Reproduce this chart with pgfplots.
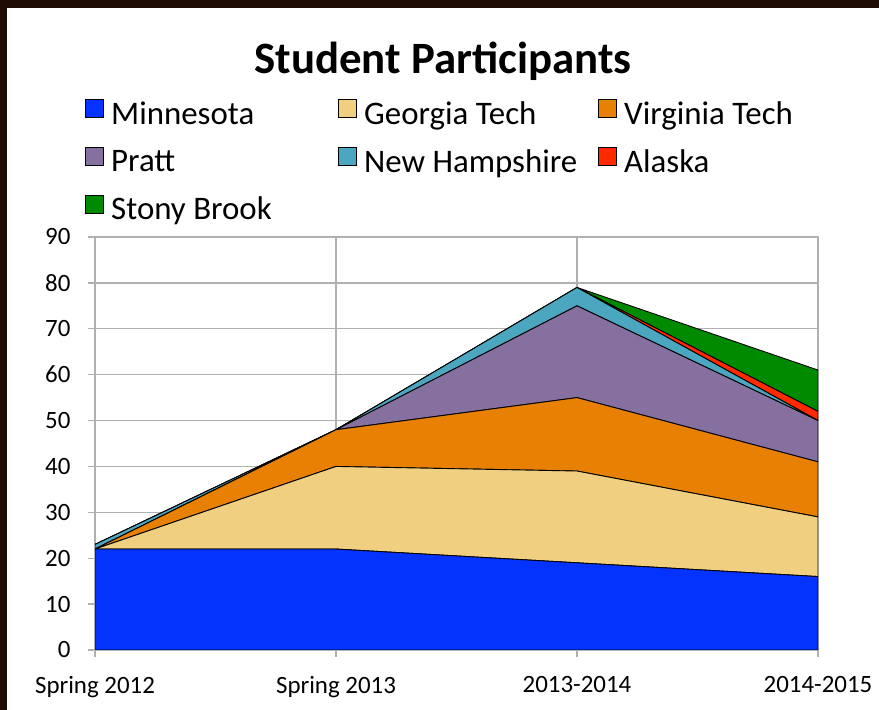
\documentclass[border=0pt]{standalone}
\usepackage{pgfplots}
\pgfplotsset{compat=1.18}
\usepackage{fontspec}
\setmainfont{Carlito}
\definecolor{cMin}{HTML}{0433FF}
\definecolor{cGT}{HTML}{F0D080}
\definecolor{cVT}{HTML}{E88004}
\definecolor{cPratt}{HTML}{8570A0}
\definecolor{cNH}{HTML}{4BA7C0}
\definecolor{cAK}{HTML}{FF2A00}
\definecolor{cSB}{HTML}{008A00}
\definecolor{gridgray}{HTML}{B0B0B0}
\definecolor{bgdark}{HTML}{1E0C05}
\definecolor{bgorange}{HTML}{B05818}
\begin{document}
\begin{tikzpicture}[x=1bp,y=1bp]
\fill[bgdark] (0,0) rectangle (879,710);
\shade[top color=bgdark, middle color=bgorange, bottom color=bgdark] (0,0) rectangle (7,702);
\fill[white] (7,0) rectangle (879,702);
\node[font=\fontsize{45}{54}\selectfont\bfseries] at (443,649) {Student Participants};
\begin{axis}[
  at={(95bp,60bp)}, anchor=south west,
  scale only axis, width=723bp, height=413bp,
  axis on top=false,
  xmin=0, xmax=3, ymin=0, ymax=90,
  xtick={0,1,2,3},
  xticklabels={Spring 2012, Spring 2013, 2013-2014, 2014-2015},
  ytick={0,10,...,90},
  grid=major,
  grid style={gridgray, line width=1.4bp},
  axis line style={gridgray, line width=1.4bp},
  tick style={gridgray, line width=1.4bp},
  tick align=outside,
  major tick length=7bp,
  xtick pos=bottom, ytick pos=left,
  tick label style={font=\fontsize{25}{30}\selectfont},
  /pgf/number format/assume math mode=true,
  xticklabel style={yshift=-16bp},
  yticklabel style={xshift=-14bp},
  stack plots=y,
  legend columns=3,
  legend cell align=left,
  legend style={at={(0,1)}, anchor=north west, xshift=-10bp, yshift=138bp,
    draw=none, fill=none, font=\fontsize{33}{38}\selectfont,
    row sep=19bp, column sep=0bp, inner sep=0bp},
  legend image code/.code={\draw[#1,draw=black,line width=1.1bp] (0bp,-4bp) rectangle (18bp,14bp); \path (23bp,0bp);},
]
\addplot[fill=cMin, draw=black, line width=0.9bp, mark=none] coordinates {(0,22) (1,22) (2,19) (3,16)} \closedcycle;
\addlegendentry{\makebox[225bp][l]{Minnesota}}
\addplot[fill=cGT, draw=black, line width=0.9bp, mark=none] coordinates {(0,0) (1,18) (2,20) (3,13)} \closedcycle;
\addlegendentry{\makebox[232bp][l]{Georgia Tech}}
\addplot[fill=cVT, draw=black, line width=0.9bp, mark=none] coordinates {(0,0) (1,8) (2,16) (3,12)} \closedcycle;
\addlegendentry{Virginia Tech}
\addplot[fill=cPratt, draw=black, line width=0.9bp, mark=none] coordinates {(0,0) (1,0) (2,20) (3,9)} \closedcycle;
\addlegendentry{\makebox[225bp][l]{Pratt}}
\addplot[fill=cNH, draw=black, line width=0.9bp, mark=none] coordinates {(0,1) (1,0) (2,4) (3,0)} \closedcycle;
\addlegendentry{\makebox[232bp][l]{New Hampshire}}
\addplot[fill=cAK, draw=black, line width=0.9bp, mark=none] coordinates {(0,0) (1,0) (2,0) (3,2)} \closedcycle;
\addlegendentry{Alaska}
\addplot[fill=cSB, draw=black, line width=0.9bp, mark=none] coordinates {(0,0) (1,0) (2,0) (3,9)} \closedcycle;
\addlegendentry{\makebox[225bp][l]{Stony Brook}}
\end{axis}
\end{tikzpicture}
\end{document}
